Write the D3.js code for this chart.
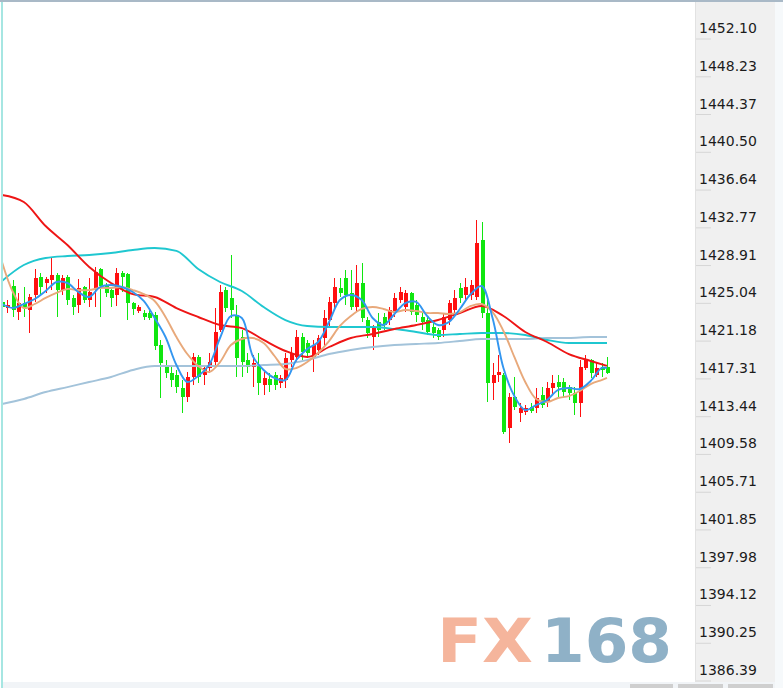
<!DOCTYPE html>
<html><head><meta charset="utf-8">
<script src="https://cdn.jsdelivr.net/npm/d3@7"></script>
<style>html,body{margin:0;padding:0;background:#fff;overflow:hidden}</style>
</head><body>
<svg id="c" width="783" height="688"></svg>
<script>
const tickLabels = ["1452.10","1448.23","1444.37","1440.50","1436.64","1432.77","1428.91","1425.04","1421.18",
  "1417.31","1413.44","1409.58","1405.71","1401.85","1397.98","1394.12","1390.25","1386.39"];

const opens = [1424.06,1423.44,1425.70,1423.03,1423.96,1423.24,1424.77,1426.62,1426.00,1426.31,
1426.82,1425.29,1426.62,1424.47,1423.75,1425.59,1424.26,1425.29,1427.44,1425.80,
1425.29,1424.77,1427.03,1426.92,1423.96,1423.13,1422.93,1422.93,1422.73,1419.65,
1417.40,1416.78,1416.58,1415.24,1414.32,1416.37,1418.42,1416.58,1417.29,1417.91,
1421.19,1425.29,1424.47,1422.73,1420.47,1418.12,1417.40,1417.60,1415.55,1416.17,
1416.58,1415.76,1416.06,1418.12,1418.42,1420.47,1419.86,1418.42,1419.14,1420.37,
1422.22,1423.96,1425.49,1426.51,1424.98,1423.55,1426.00,1422.22,1420.47,1422.01,
1422.52,1422.22,1422.93,1424.26,1423.55,1424.98,1423.75,1422.52,1422.22,1421.50,
1421.19,1421.19,1422.22,1423.24,1425.49,1424.77,1424.77,1424.57,1430.40,1422.93,
1415.76,1416.58,1416.58,1411.15,1414.32,1412.68,1412.79,1413.30,1413.20,1414.52,
1413.81,1415.24,1415.86,1415.86,1415.35,1414.73,1413.71,1417.29,1418.12,1416.58,
1417.40,1417.40];
const highs = [1424.98,1424.26,1426.31,1424.98,1425.59,1424.88,1427.44,1427.03,1426.62,1428.56,
1427.03,1426.82,1426.82,1424.77,1426.41,1425.70,1426.51,1427.64,1427.54,1426.00,
1425.59,1427.54,1427.23,1427.03,1424.06,1423.75,1423.24,1423.24,1423.03,1420.17,
1418.12,1417.40,1417.09,1416.06,1416.88,1418.83,1418.63,1417.60,1418.83,1423.44,
1425.80,1425.59,1428.87,1423.75,1421.19,1418.83,1418.63,1418.83,1416.88,1416.78,
1416.88,1416.58,1418.83,1419.45,1421.19,1420.88,1420.17,1420.17,1420.68,1423.24,
1424.57,1426.51,1426.51,1427.33,1427.33,1427.85,1428.05,1422.52,1421.70,1422.93,
1422.93,1423.55,1424.98,1425.59,1425.29,1425.08,1424.26,1422.93,1422.52,1421.91,
1421.40,1422.93,1424.26,1425.29,1426.00,1426.51,1426.31,1432.45,1432.24,1424.57,
1417.81,1418.63,1416.78,1414.73,1416.37,1413.71,1413.50,1413.71,1415.24,1415.35,
1415.86,1416.58,1416.58,1416.27,1415.55,1415.35,1418.12,1418.63,1418.22,1417.81,
1417.81,1418.42];
const lows = [1423.03,1422.93,1422.52,1422.22,1422.52,1420.88,1424.06,1424.77,1424.98,1425.29,
1422.52,1424.77,1423.75,1422.73,1422.93,1423.96,1423.55,1423.55,1422.52,1424.57,
1423.55,1423.65,1425.08,1422.22,1422.73,1422.93,1422.22,1422.22,1419.14,1414.22,
1416.27,1415.35,1414.73,1412.68,1413.81,1415.55,1415.76,1415.55,1416.78,1417.60,
1420.99,1423.03,1422.42,1416.37,1416.37,1416.78,1415.35,1414.52,1414.52,1414.83,
1415.04,1415.24,1415.24,1417.40,1417.91,1418.12,1418.32,1416.88,1418.63,1419.45,
1421.50,1423.44,1424.57,1423.75,1423.24,1423.03,1422.01,1420.37,1419.14,1420.47,
1421.19,1421.70,1422.52,1423.96,1423.03,1422.73,1422.01,1421.19,1420.68,1420.37,
1420.17,1420.47,1421.70,1422.73,1423.96,1424.26,1424.26,1424.26,1422.42,1413.81,
1414.01,1415.86,1410.53,1409.61,1412.99,1411.76,1412.48,1412.68,1412.68,1413.20,
1413.30,1414.52,1414.32,1414.32,1414.01,1412.48,1412.27,1417.09,1416.27,1416.37,
1416.37,1416.68];
const closes = [1423.55,1423.75,1423.24,1423.96,1423.44,1424.57,1426.51,1425.59,1426.41,1426.82,
1425.29,1426.51,1424.26,1423.55,1425.49,1424.26,1425.08,1427.13,1425.70,1424.98,
1424.47,1427.03,1426.62,1423.96,1423.34,1423.55,1422.52,1422.42,1419.55,1417.81,
1416.78,1416.06,1415.35,1414.32,1416.37,1418.42,1416.37,1417.29,1417.91,1420.99,
1425.08,1423.44,1423.24,1418.32,1417.91,1417.40,1417.81,1415.76,1416.27,1415.55,
1415.55,1416.27,1418.32,1418.83,1420.47,1418.93,1418.83,1419.65,1420.37,1422.42,
1424.06,1425.59,1424.98,1424.77,1423.55,1426.00,1422.42,1420.88,1421.40,1421.19,
1421.70,1423.24,1424.47,1425.08,1424.98,1423.03,1422.73,1422.01,1420.99,1420.88,
1420.47,1422.52,1423.96,1424.47,1424.47,1425.59,1425.80,1430.09,1422.93,1415.76,
1416.58,1416.88,1410.74,1414.32,1413.30,1413.20,1413.20,1412.89,1414.22,1413.50,
1415.24,1415.76,1415.35,1414.83,1414.73,1413.71,1417.40,1418.12,1416.78,1417.29,
1417.09,1416.78];

const maBlue = [1423.85,1423.44,1423.85,1424.36,1425.18,1426.10,1426.00,1425.08,1424.57,1425.59,
1425.80,1425.59,1425.08,1424.16,1422.42,1420.47,1417.61,1415.87,1416.48,1417.61,
1420.37,1422.62,1422.42,1418.53,1417.10,1416.28,1416.07,1418.12,1419.25,1419.96,
1422.01,1424.26,1424.77,1424.26,1422.42,1421.70,1422.83,1423.95,1424.06,1422.62,
1421.70,1422.01,1423.34,1424.87,1425.69,1422.42,1417.30,1414.43,1413.00,1413.51,
1414.03,1415.05,1415.25,1415.15,1415.97,1417.30,1417.30];
const maTan = [1428.15,1425.08,1423.44,1423.85,1424.47,1424.98,1425.39,1425.28,1425.28,1425.49,
1425.49,1425.59,1425.28,1424.87,1424.16,1422.52,1420.47,1418.73,1417.51,1416.89,
1417.91,1419.65,1420.27,1420.37,1419.86,1418.53,1417.20,1417.30,1417.91,1418.84,
1420.06,1421.60,1422.62,1423.34,1423.54,1423.34,1423.03,1423.24,1423.13,1422.93,
1422.93,1422.83,1423.03,1423.65,1423.85,1423.03,1421.09,1418.43,1415.87,1414.13,
1413.82,1414.23,1414.43,1414.95,1415.66,1416.07,1416.28];
const maRed = [1435.01,1434.29,1431.83,1429.89,1427.64,1426.00,1424.87,1424.57,1423.44,1422.52,
1421.70,1421.39,1420.17,1419.04,1418.43,1419.45,1420.37,1420.78,1421.29,1421.70,
1422.21,1422.93,1423.65,1422.62,1420.99,1419.96,1418.73,1418.02,1417.51];
const maCyan = [1426.21,1427.84,1428.56,1428.76,1428.87,1429.07,1429.38,1429.58,1429.28,1427.43,
1426.10,1425.18,1423.54,1422.21,1421.60,1421.50,1421.50,1421.50,1421.29,1420.99,
1420.68,1420.78,1420.88,1420.88,1420.68,1420.17,1419.86,1419.86,1419.86];
const maLight = [1413.62,1414.13,1414.84,1415.35,1415.87,1416.38,1417.10,1417.51,1417.51,1417.51,
1417.51,1417.51,1417.61,1417.71,1418.12,1418.73,1419.14,1419.45,1419.65,1419.76,
1419.86,1420.06,1420.27,1420.27,1420.27,1420.37,1420.37,1420.47,1420.47];

const n = closes.length;
const fastIdx = d3.range(0, n - 1, 2).concat([n - 1]);
const slowIdx = d3.range(0, n - 1, 4).concat([n - 1]);

const svg = d3.select('#c');
const x = d3.scaleLinear().domain([0, n - 1]).range([2, 607]);
const y = d3.scaleLinear().domain([+tickLabels[tickLabels.length - 1], +tickLabels[0]]).range([670, 28]);

svg.append('rect').attr('width', 783).attr('height', 688).attr('fill', '#fff');

// watermark
const wm = svg.append('g').attr('font-family', 'DejaVu Sans').attr('font-weight', 'bold').attr('font-size', 60);
wm.append('text').attr('x', 437).attr('y', 662).attr('textLength', 96).attr('lengthAdjust', 'spacingAndGlyphs')
  .attr('fill', '#f5b59c').text('FX');
wm.append('text').attr('x', 541).attr('y', 662).attr('textLength', 131).attr('lengthAdjust', 'spacingAndGlyphs')
  .attr('fill', '#8fb1c7').text('168');

// clip for the plot
svg.append('clipPath').attr('id', 'pc').append('rect').attr('x', 0).attr('y', 2).attr('width', 695).attr('height', 681);
const plot = svg.append('g').attr('clip-path', 'url(#pc)');

// candles
const up = '#ff1010', down = '#10e610';
const cg = plot.append('g').attr('shape-rendering', 'crispEdges');
d3.range(n).forEach(i => {
  const cx = Math.round(x(i));
  const col = closes[i] >= opens[i] ? up : down;
  cg.append('line').attr('x1', cx + 0.5).attr('x2', cx + 0.5)
    .attr('y1', y(highs[i])).attr('y2', y(lows[i])).attr('stroke', col).attr('stroke-width', 1);
  const top = y(Math.max(opens[i], closes[i])), bot = y(Math.min(opens[i], closes[i]));
  cg.append('rect').attr('x', cx - 1.5).attr('width', 4)
    .attr('y', top).attr('height', Math.max(1, bot - top)).attr('fill', col);
});

function drawLine(idx, vals, color, curve) {
  const line = d3.line().x((d, k) => x(idx[k])).y(d => y(d)).curve(curve);
  plot.append('path').datum(vals).attr('d', line).attr('fill', 'none')
    .attr('stroke', color).attr('stroke-width', 1.9).attr('stroke-linejoin', 'round');
}
drawLine(slowIdx, maLight, '#a3c3da', d3.curveMonotoneX);
drawLine(slowIdx, maCyan, '#1fc7d0', d3.curveMonotoneX);
drawLine(slowIdx, maRed, '#ee1515', d3.curveMonotoneX);
drawLine(fastIdx, maTan, '#e8a97b', d3.curveCatmullRom.alpha(0.5));
drawLine(fastIdx, maBlue, '#3396f0', d3.curveCatmullRom.alpha(0.5));

// frame
svg.append('rect').attr('x', 0).attr('y', 0).attr('width', 783).attr('height', 2).attr('fill', '#a9b9c7');
svg.append('rect').attr('x', 1).attr('y', 2).attr('width', 2).attr('height', 686).attr('fill', '#a6e6e2');

// axis panel
svg.append('rect').attr('x', 695).attr('y', 2).attr('width', 80).attr('height', 681).attr('fill', '#f0f0f0');
svg.append('rect').attr('x', 775).attr('y', 2).attr('width', 8).attr('height', 686).attr('fill', '#f6f9fb');
svg.append('line').attr('x1', 695.5).attr('x2', 695.5).attr('y1', 2).attr('y2', 683).attr('stroke', '#e2e2e2');

// bottom strip
svg.append('rect').attr('x', 3).attr('y', 682).attr('width', 772).attr('height', 6).attr('fill', '#f1f4f7');
[[630, 43], [678, 45], [728, 45]].forEach(b => {
  svg.append('rect').attr('x', b[0]).attr('y', 684).attr('width', b[1]).attr('height', 4).attr('fill', '#cfcfcf');
});

const axis = d3.axisRight(y).tickValues(tickLabels.map(Number)).tickFormat(d => d.toFixed(2))
  .tickSize(0).tickPadding(4);
const ag = svg.append('g').attr('transform', 'translate(695,0)').call(axis);
ag.select('.domain').remove();
ag.selectAll('text').attr('font-family', 'DejaVu Sans, Verdana, sans-serif').attr('font-size', 14).attr('fill', '#1c1c1c');
ag.selectAll('.tick').append('line').attr('x1', 1).attr('x2', 16).attr('y1', 10.5).attr('y2', 10.5)
  .attr('stroke', '#d6d6d6');
</script>
</body></html>
